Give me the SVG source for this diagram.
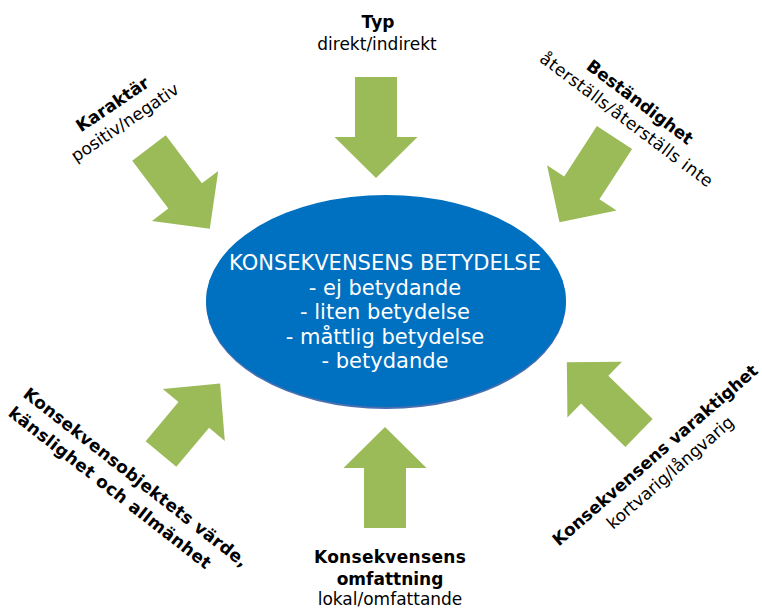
<svg xmlns="http://www.w3.org/2000/svg" width="762" height="610" viewBox="0 0 762 610">
<style>
  text { font-family: "DejaVu Sans", Verdana, sans-serif; fill: #000; }
  .b { font-weight: bold; font-size: 17px; }
  .r { font-size: 17px; }
  .c { text-anchor: middle; }
  .in { fill: #fff; font-size: 21px; text-anchor: middle; }
  .arrow { fill: #9BBB59; }
</style>
<rect width="762" height="610" fill="#fff"/>

<g id="connectors">
  <polygon class="arrow" transform="translate(376,77)" points="-21,0 21,0 21,60 41.5,60 0,101 -41.5,60 -21,60"/>
  <polygon class="arrow" transform="translate(149,148) rotate(-37)" points="-21,0 21,0 21,60 41.5,60 0,101 -41.5,60 -21,60"/>
  <polygon class="arrow" transform="translate(614.5,137.5) rotate(33)" points="-21,0 21,0 21,60 41.5,60 0,101 -41.5,60 -21,60"/>
  <polygon class="arrow" transform="translate(385,528) rotate(180)" points="-21,0 21,0 21,60 41.5,60 0,101 -41.5,60 -21,60"/>
  <polygon class="arrow" transform="translate(161,454) rotate(-140)" points="-20,0 20,0 20,51 40.5,51 0,92 -40.5,51 -20,51"/>
  <polygon class="arrow" transform="translate(639,433) rotate(134.4)" points="-19.5,0 19.5,0 19.5,62 39,62 0,101 -39,62 -19.5,62"/>
</g>

<g id="center">
  <ellipse cx="386" cy="302.5" rx="180" ry="106.5" fill="#4A6FAE"/>
  <ellipse cx="386" cy="301" rx="180" ry="106" fill="#0070C0"/>
  <text class="in" x="385" y="270">KONSEKVENSENS BETYDELSE</text>
  <text class="in" x="385" y="294.5">- ej betydande</text>
  <text class="in" x="385" y="319">- liten betydelse</text>
  <text class="in" x="385" y="343.5">- måttlig betydelse</text>
  <text class="in" x="385" y="368">- betydande</text>
</g>

<g id="typ">
  <text class="b c" x="378" y="28">Typ</text>
  <text class="r c" x="377" y="50">direkt/indirekt</text>
</g>

<g id="karaktar" transform="translate(113,105) rotate(-34)">
  <text class="b c" x="0" y="5">Karaktär</text>
  <text class="r c" x="0" y="27">positiv/negativ</text>
</g>

<g id="bestandighet" transform="translate(640,102) rotate(37)">
  <text class="b c" x="0" y="6">Beständighet</text>
  <text class="r c" x="0" y="28" letter-spacing="0.4">återställs/återställs inte</text>
</g>

<g id="varde" transform="translate(22,396) rotate(38)">
  <text class="b" x="0" y="0" letter-spacing="0.3">Konsekvensobjektets värde,</text>
  <text class="b" x="0" y="24" letter-spacing="0.4">känslighet och allmänhet</text>
</g>

<g id="varaktighet" transform="translate(655,455) rotate(-41)">
  <text class="b c" x="0" y="6">Konsekvensens varaktighet</text>
  <text class="r c" x="0" y="29">kortvarig/långvarig</text>
</g>

<g id="omfattning">
  <text class="b c" x="390" y="563" letter-spacing="0.3">Konsekvensens</text>
  <text class="b c" x="390" y="585">omfattning</text>
  <text class="r c" x="390" y="605">lokal/omfattande</text>
</g>
</svg>
